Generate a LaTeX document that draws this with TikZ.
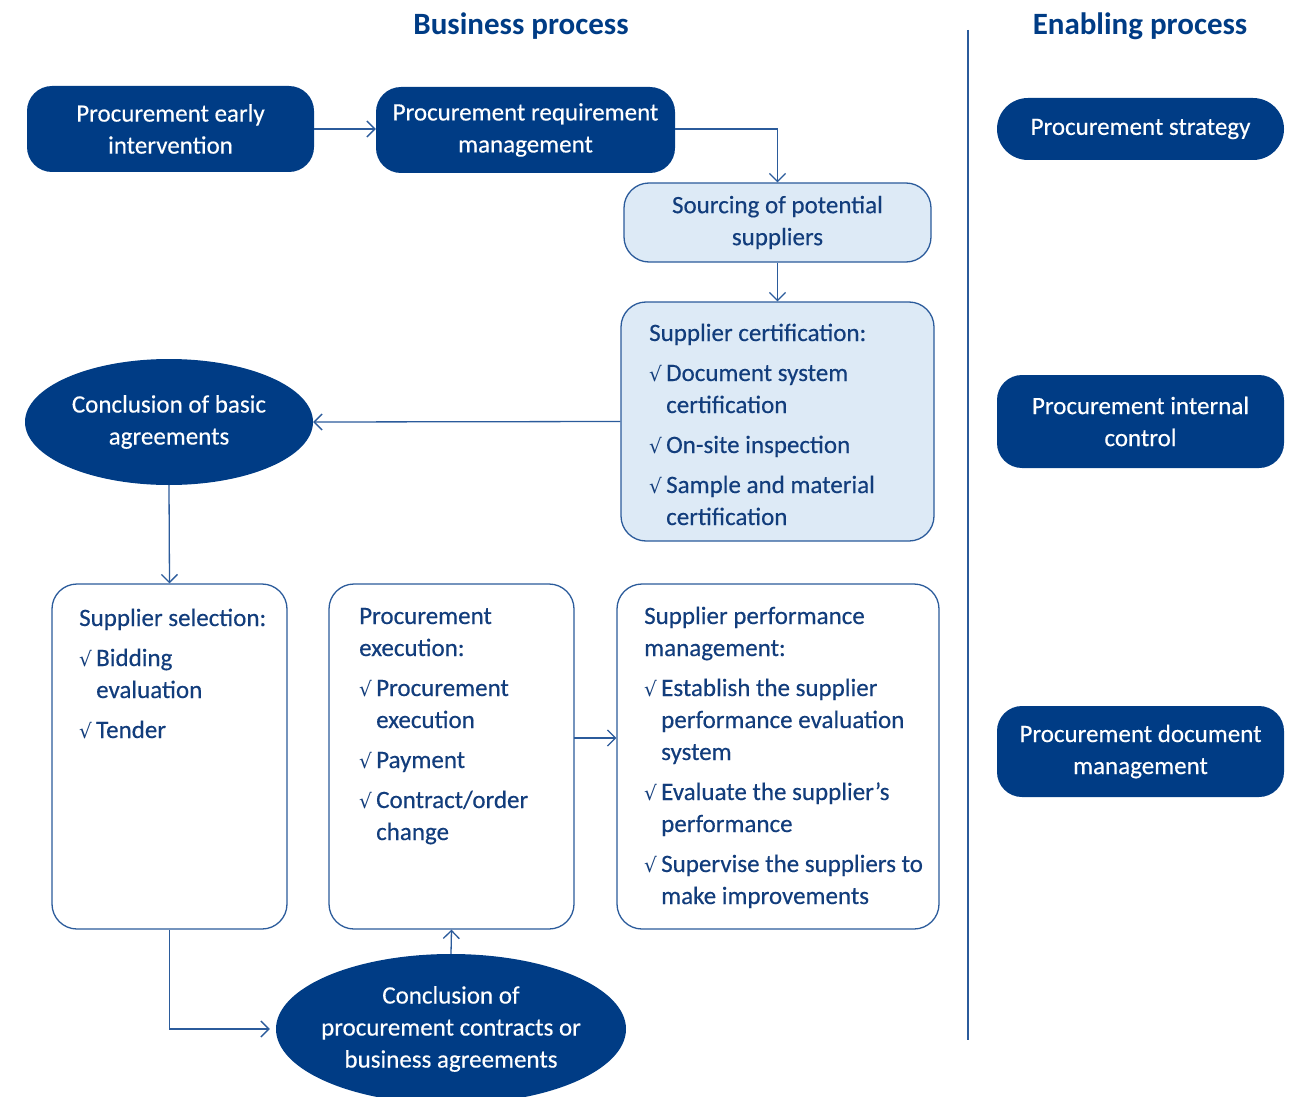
\documentclass[tikz,border=0pt]{standalone}
\usepackage{fontspec}
\setmainfont{Carlito}[UprightFeatures={FakeBold=0.35}]
\newfontfamily\symfont{DejaVu Sans}
\usetikzlibrary{arrows.meta,shapes.geometric,calc}
\definecolor{dkblue}{HTML}{003C85}
\definecolor{lineblue}{HTML}{2B5B9B}
\definecolor{txtblue}{HTML}{123D7C}
\definecolor{lightfill}{HTML}{DDEAF6}
\newcommand\ck{\makebox[17pt][l]{\symfont\fontsize{20}{32}\selectfont √}}
\tikzset{
  darkbox/.style={draw=none, fill=dkblue, text=white, rounded corners=25pt, align=center, inner sep=0pt},
  lightbox/.style={draw=lineblue, line width=1.3pt, fill=lightfill, text=txtblue, rounded corners=25pt, align=center, inner sep=0pt},
  whitebox/.style={draw=lineblue, line width=1.3pt, fill=white, rounded corners=25pt, inner sep=0pt},
  darkell/.style={ellipse, fill=dkblue, text=white, align=center, inner sep=0pt},
  listtext/.style={anchor=base west, text=txtblue, inner sep=0pt},
  conn/.style={draw=lineblue, line width=1.3pt, -{Straight Barb[length=8pt,width=16pt,line width=1.3pt]}},
  title/.style={text=dkblue, font=\bfseries\fontsize{31}{34}\selectfont}
}
\begin{document}
\begin{tikzpicture}[x=1pt,y=-1pt, every node/.style={font=\fontsize{25}{32}\selectfont}]
\useasboundingbox (0,0) rectangle (1299,1097);
% titles
\node[title] (t1) at (521,26) {Business process};
\node[title] (t2) at (1140,26) {Enabling process};
\draw[lineblue, line width=1.3pt] (968,30) -- (968,1040);
% top row
\node[darkbox, minimum width=287pt, minimum height=86pt] (A) at (170.5,129) {Procurement early\\intervention};
\node[darkbox, minimum width=299pt, minimum height=86pt] (B) at (525.5,130) {Procurement requirement\\management};
\node[lightbox, minimum width=307pt, minimum height=79pt] (C) at (777.5,222.5) {Sourcing of potential\\suppliers};
\node[lightbox, minimum width=313pt, minimum height=239pt] (D) at (777.5,421.5) {};
\node[listtext] (Dt) at (649,341) {\begin{tabular}[t]{@{}l@{}l@{}}
\multicolumn{2}{@{}l@{}}{Supplier certification:}\\[8pt]
\ck & Document system\\
 & certification\\[8pt]
\ck & On-site inspection\\[8pt]
\ck & Sample and material\\
 & certification
\end{tabular}};
\node[darkell, minimum width=288pt, minimum height=126pt] (E) at (169,422) {Conclusion of basic\\agreements};
% lower boxes
\node[whitebox, minimum width=235pt, minimum height=345pt] (F) at (169.5,756.5) {};
\node[listtext] (Ft) at (79,626) {\begin{tabular}[t]{@{}l@{}l@{}}
\multicolumn{2}{@{}l@{}}{Supplier selection:}\\[8pt]
\ck & Bidding\\
 & evaluation\\[8pt]
\ck & Tender
\end{tabular}};
\node[whitebox, minimum width=245pt, minimum height=345pt] (G) at (451.5,756.5) {};
\node[listtext] (Gt) at (359,624) {\begin{tabular}[t]{@{}l@{}l@{}}
\multicolumn{2}{@{}l@{}}{Procurement}\\
\multicolumn{2}{@{}l@{}}{execution:}\\[8pt]
\ck & Procurement\\
 & execution\\[8pt]
\ck & Payment\\[8pt]
\ck & Contract/order\\
 & change
\end{tabular}};
\node[whitebox, minimum width=322pt, minimum height=345pt] (H) at (778,756.5) {};
\node[listtext] (Ht) at (644,624) {\begin{tabular}[t]{@{}l@{}l@{}}
\multicolumn{2}{@{}l@{}}{Supplier performance}\\
\multicolumn{2}{@{}l@{}}{management:}\\[8pt]
\ck & Establish the supplier\\
 & performance evaluation\\
 & system\\[8pt]
\ck & Evaluate the supplier's\\
 & performance\\[8pt]
\ck & Supervise the suppliers to\\
 & make improvements
\end{tabular}};
\node[darkell, inner xsep=-10pt, minimum width=350pt, minimum height=150pt] (I) at (451,1029) {Conclusion of\\procurement contracts or\\business agreements};
% right column
\node[darkbox, rounded corners=31pt, minimum width=287pt, minimum height=62pt] (J) at (1140.5,129) {Procurement strategy};
\node[darkbox, minimum width=287pt, minimum height=93pt] (K) at (1140.5,421.5) {Procurement internal\\control};
\node[darkbox, minimum width=287pt, minimum height=91pt] (L) at (1140.5,751.5) {Procurement document\\management};
% connectors
\draw[conn] (A.east) -- (A.east -| B.west);
\draw[conn] (A.east -| B.east) -| (C.north);
\draw[conn] (C.south) -- (D.north);
\draw[conn] (D.west) -- (E.east);
\draw[conn] (E.south) -- (F.north);
\draw[conn, shorten >=6pt] (F.south) |- (I.west);
\draw[conn] (I.north) -- (G.south);
\coordinate (gh) at (574,738);
\draw[conn] (gh) -- (gh -| H.west);
\end{tikzpicture}
\end{document}
